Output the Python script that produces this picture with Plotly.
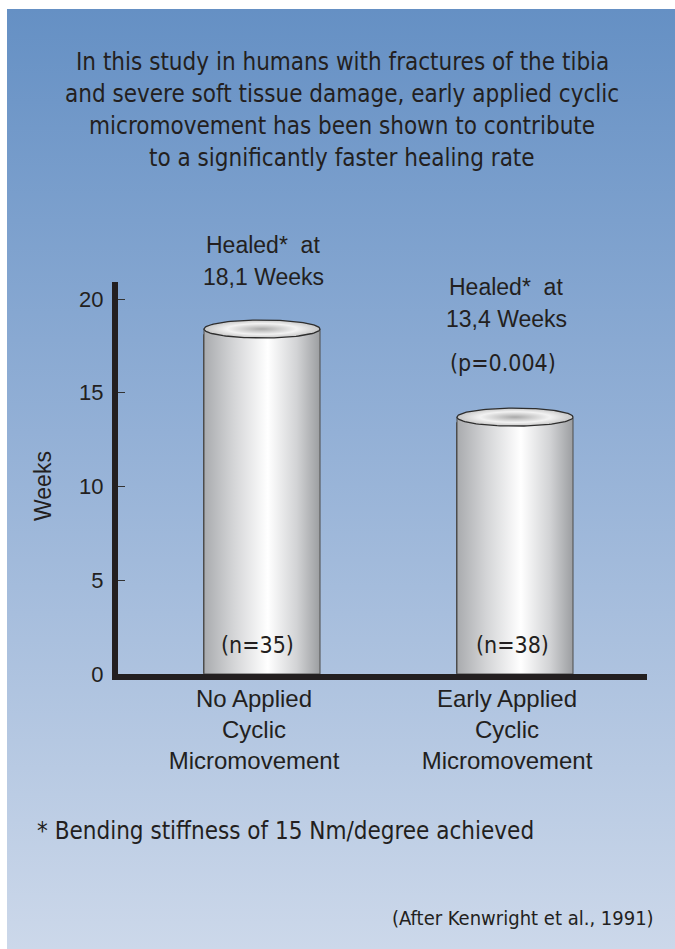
import numpy as np
import plotly.graph_objects as go

# ---------------- data ----------------
CATEGORIES = ["No Applied<br>Cyclic<br>Micromovement",
              "Early Applied<br>Cyclic<br>Micromovement"]
HEAL_WEEKS = [18.1, 13.4]
N_LABELS = ["(n=35)", "(n=38)"]
P_VALUE_LABEL = "(p=0.004)"
Y_TICKS = [0, 5, 10, 15, 20]
Y_TITLE = "Weeks"
TITLE_LINES = [
    "In this study in humans with fractures of the tibia",
    "and severe soft tissue damage, early applied cyclic",
    "micromovement has been shown to contribute",
    "to a significantly faster healing rate",
]
FOOTNOTE = "* Bending stiffness of 15 Nm/degree achieved"
SOURCE = "(After Kenwright et al., 1991)"

# ---------------- layout helpers ----------------
W, H = 675, 949
ML, MT = 7, 9
def px(x):
    return (x - ML) / (W - ML)
def py(y):
    return (H - y) / (H - MT)

NARROW = "DejaVu Sans Condensed, Liberation Sans Narrow, sans-serif"
SANS = "Liberation Sans, Arial, Helvetica, sans-serif"
INK = "#231f20"

POS = list(range(len(HEAL_WEEKS)))
BAR_W = 0.4585
CAP_RY = 0.48
CAP_LIFT = 0.3

fig = go.Figure()

# background gradient panel (own full-size subplot, drawn past its edges and clipped)
fig.add_trace(go.Scatter(
    x=[-0.2, 1.2, 1.2, -0.2, -0.2], y=[-0.2, -0.2, 1.2, 1.2, -0.2],
    mode="lines", fill="toself",
    line=dict(width=0), hoverinfo="skip", showlegend=False,
    fillgradient=dict(type="vertical", start=0, stop=1,
                      colorscale=[[0, "#ccd8ea"], [0.55, "#93b0d6"], [1, "#6590c4"]]),
    xaxis="x", yaxis="y"))

# base bars
fig.add_trace(go.Bar(
    x=POS, y=HEAL_WEEKS, width=BAR_W,
    marker=dict(color="#d9d9d9", line=dict(color="#4d4d4d", width=1)),
    showlegend=False, hoverinfo="skip", xaxis="x2", yaxis="y2"))

body_scale = [[0, "#a9abae"], [0.25, "#d3d4d6"], [0.55, "#ffffff"],
              [0.8, "#d2d3d5"], [1, "#9c9ea1"]]
cap_scale = [[0, "#a9a9a9"], [0.35, "#d4d4d4"], [0.6, "#f2f2f2"], [1, "#c6c6c6"]]

t = np.linspace(0, 2 * np.pi, 121)
for xc, v in zip(POS, HEAL_WEEKS):
    top = v + CAP_LIFT
    hw = BAR_W / 2
    fig.add_trace(go.Scatter(
        x=[xc - hw, xc + hw, xc + hw, xc - hw, xc - hw],
        y=[0, 0, top, top, 0], mode="lines", fill="toself",
        line=dict(color="#4d4d4d", width=1),
        fillgradient=dict(type="horizontal", colorscale=body_scale),
        showlegend=False, hoverinfo="skip", xaxis="x2", yaxis="y2"))
    fig.add_trace(go.Scatter(
        x=xc + hw * np.cos(t), y=top + CAP_RY * np.sin(t),
        mode="lines", fill="toself",
        line=dict(color="#2e2e2e", width=1.3),
        fillgradient=dict(type="radial", colorscale=cap_scale),
        showlegend=False, hoverinfo="skip", xaxis="x2", yaxis="y2"))

# ---------------- annotations ----------------
ann = []
def add(text, x, y, size, family=SANS, xanchor="center", angle=0):
    ann.append(dict(text=text, x=px(x), y=py(y), xref="paper", yref="paper",
                    xanchor=xanchor, yanchor="middle", showarrow=False,
                    textangle=angle, font=dict(family=family, size=size, color=INK)))

for line, yy in zip(TITLE_LINES, [62, 94, 126, 158]):
    add(line, 342, yy, 24, NARROW)

def wk(v):
    return f"{v:.1f}".replace(".", ",")

add("Healed*\u00a0 at", 263, 245, 23)
add(f"{wk(HEAL_WEEKS[0])} Weeks", 263, 277, 23)
add("Healed*\u00a0 at", 506, 287, 23)
add(f"{wk(HEAL_WEEKS[1])} Weeks", 506, 319, 23)
add(P_VALUE_LABEL, 503, 363, 23, NARROW)
add(N_LABELS[0], 257, 645, 23, NARROW)
add(N_LABELS[1], 512, 645, 23, NARROW)
add(Y_TITLE, 43, 486, 23, angle=-90)
add(FOOTNOTE, 35, 831, 24, NARROW, xanchor="left")
add(SOURCE, 656, 918, 20, NARROW, xanchor="right")

# ---------------- axes ----------------
X_LEFT, X_RIGHT = 118, 647
Y_BOT, Y_TOP = 674, 282
PX_PER_X = 253.0
PX_PER_Y = 18.75
x_min = (X_LEFT - 262) / PX_PER_X
x_max = (X_RIGHT - 262) / PX_PER_X
y_max = (Y_BOT - Y_TOP) / PX_PER_Y

fig.update_layout(
    width=W, height=H,
    margin=dict(l=ML, r=0, t=MT, b=0, pad=0, autoexpand=False),
    paper_bgcolor="white", plot_bgcolor="rgba(0,0,0,0)",
    showlegend=False, annotations=ann, bargap=0,
    xaxis=dict(domain=[0, 1], range=[0, 1], visible=False, fixedrange=True),
    yaxis=dict(domain=[0, 1], range=[0, 1], visible=False, fixedrange=True),
    xaxis2=dict(domain=[px(X_LEFT), px(X_RIGHT)], anchor="y2",
                range=[x_min, x_max], showgrid=False, zeroline=False,
                showline=True, linecolor=INK, linewidth=6,
                tickmode="array", tickvals=POS, ticktext=CATEGORIES,
                ticks="", ticklabelshift=-8, ticklabelstandoff=-2,
                tickfont=dict(family=SANS, size=24, color=INK)),
    yaxis2=dict(domain=[py(Y_BOT), py(Y_TOP)], anchor="x2",
                range=[0, y_max], showgrid=False, zeroline=False,
                showline=True, linecolor=INK, linewidth=6,
                tickmode="array", tickvals=Y_TICKS,
                ticks="inside", ticklen=7, tickwidth=1, tickcolor="#333333",
                ticklabelstandoff=4,
                tickfont=dict(family=SANS, size=22, color=INK)),
)

fig.write_html(
    "out.html",
    config={"displayModeBar": False},
    post_script="document.body.style.margin='0';"
                "document.documentElement.style.overflow='hidden';",
)
